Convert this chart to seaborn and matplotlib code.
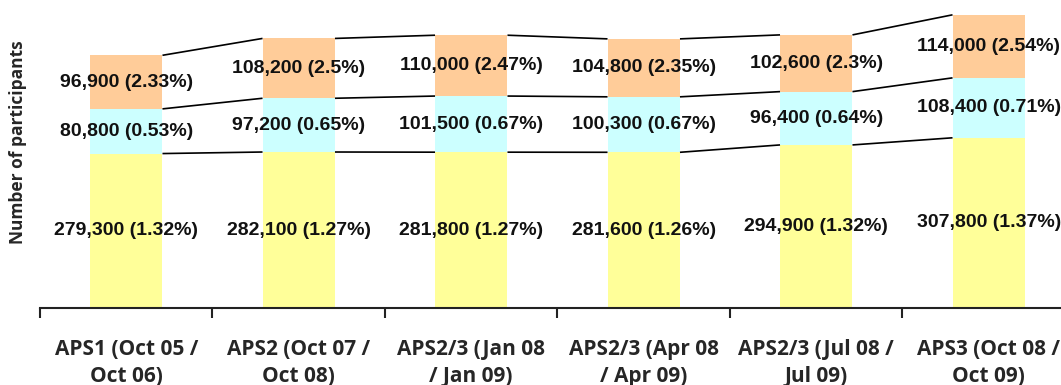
import numpy as np
import pandas as pd
import matplotlib
matplotlib.use("Agg")
import matplotlib.pyplot as plt
import seaborn as sns

# Survey waves and participant counts (with participation rates) per group
periods = [
    "APS1 (Oct 05 /\nOct 06)",
    "APS2 (Oct 07 /\nOct 08)",
    "APS2/3 (Jan 08\n/ Jan 09)",
    "APS2/3 (Apr 08\n/ Apr 09)",
    "APS2/3 (Jul 08 /\nJul 09)",
    "APS3 (Oct 08 /\nOct 09)",
]
bottom_counts = [279300, 282100, 281800, 281600, 294900, 307800]
bottom_rates = [1.32, 1.27, 1.27, 1.26, 1.32, 1.37]
middle_counts = [80800, 97200, 101500, 100300, 96400, 108400]
middle_rates = [0.53, 0.65, 0.67, 0.67, 0.64, 0.71]
top_counts = [96900, 108200, 110000, 104800, 102600, 114000]
top_rates = [2.33, 2.5, 2.47, 2.35, 2.3, 2.54]

colors = ["#FFFF99", "#CCFFFF", "#FFCC99"]
bar_width = 0.42

sns.set_theme(style="white")
plt.rcParams["font.family"] = ["Liberation Sans", "DejaVu Sans"]

fig = plt.figure(figsize=(10.61, 3.85), dpi=100)
ax = fig.add_axes([40 / 1061, 0.2, 1035 / 1061, 0.8])

df = pd.DataFrame({
    "period": periods,
    "bottom": bottom_counts,
    "middle": middle_counts,
    "top": top_counts,
})
base_mid = np.array(bottom_counts)
base_top = base_mid + np.array(middle_counts)
totals = base_top + np.array(top_counts)

layers = [
    ("bottom", np.zeros(len(periods)), bottom_counts, bottom_rates),
    ("middle", base_mid, middle_counts, middle_rates),
    ("top", base_top, top_counts, top_rates),
]

for (col, base, counts, rates), color in zip(layers, colors):
    sns.barplot(data=df, x="period", y=col, order=periods, bottom=base,
                color=color, width=bar_width, saturation=1, errorbar=None,
                linewidth=0, ax=ax)
    for i, (b, v, r) in enumerate(zip(base, counts, rates)):
        ax.text(i, b + v / 2, f"{v:,} ({r:g}%)", ha="center", va="center",
                fontsize=14, fontweight="bold", color="#111111")

# connector lines between the tops of matching segments
half = bar_width / 2
for tops in (base_mid, base_top, totals):
    for i in range(len(periods) - 1):
        ax.plot([i + half, i + 1 - half], [tops[i], tops[i + 1]],
                color="black", linewidth=1.2, solid_capstyle="butt")

ax.set_xlim(-0.5, 5.5)
ax.set_ylim(0, 557000)
ax.set_xlabel("")
ax.set_ylabel("")
ax.set_yticks([])
for side in ("left", "top", "right"):
    ax.spines[side].set_visible(False)
ax.spines["bottom"].set_color("#222222")
ax.spines["bottom"].set_linewidth(1.5)

ax.set_xticks(range(len(periods)))
ax.set_xticklabels(periods, fontsize=15, fontweight="bold",
                   family=["Open Sans", "DejaVu Sans"], linespacing=1.4)
ax.tick_params(axis="x", which="major", length=0, pad=22)
ax.set_xticks(np.arange(-0.5, 5.0, 1.0), minor=True)
ax.tick_params(axis="x", which="minor", length=7, width=1.5, color="#222222",
               direction="out", bottom=True)

fig.text(18 / 1061, 1 - 142 / 385, "Number of participants", rotation=90,
         ha="center", va="center", fontsize=12.5, fontweight="bold",
         family=["Open Sans", "DejaVu Sans"])

fig.savefig("out.png", dpi=100)
